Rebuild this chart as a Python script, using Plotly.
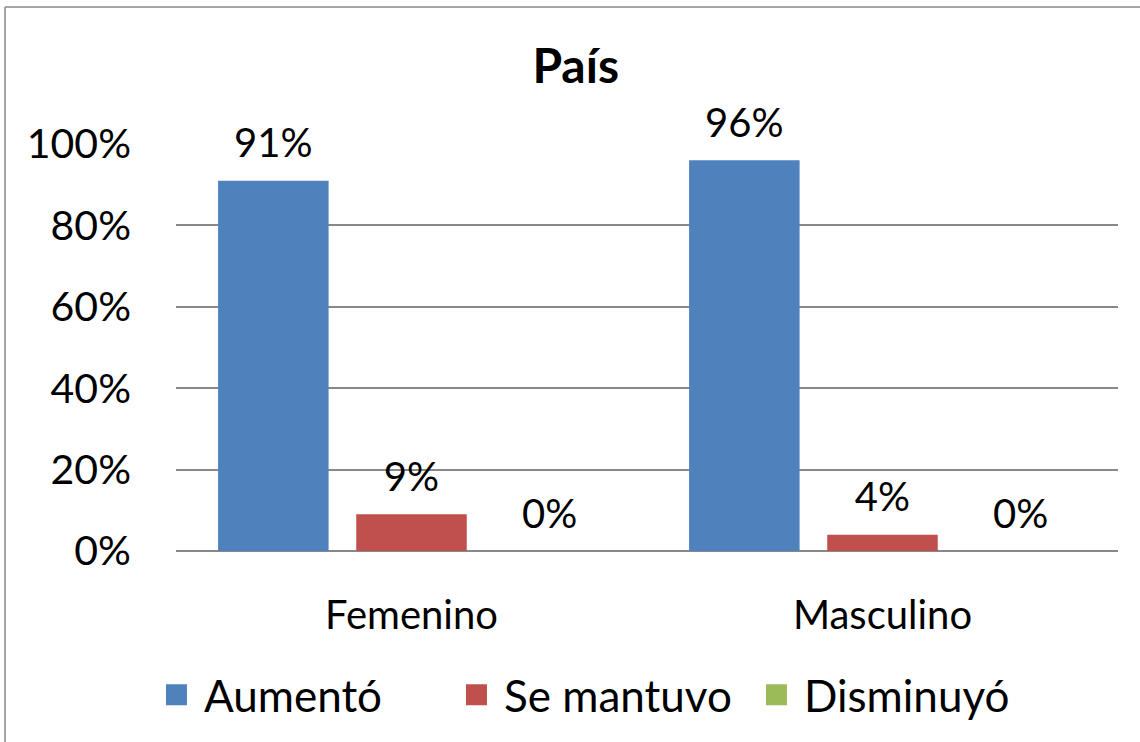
import plotly.graph_objects as go

categories = ["Femenino", "Masculino"]
series_names = ["Aumentó", "Se mantuvo", "Disminuyó"]
aumento = [0.91, 0.96]
se_mantuvo = [0.09, 0.04]
disminuyo = [0.0, 0.0]
colors = ["#4F81BD", "#C0504D", "#9BBB59"]
title_text = "País"
tick_vals = [0, 0.2, 0.4, 0.6, 0.8, 1.0]
tick_text = ["0%", "20%", "40%", "60%", "80%", "100%"]

FONT = "Lato, Carlito, Calibri, sans-serif"
series = [aumento, se_mantuvo, disminuyo]

fig = go.Figure()
for i, (name, vals, col) in enumerate(zip(series_names, series, colors)):
    fig.add_trace(go.Bar(
        x=categories, y=vals, name=name, offsetgroup=str(i), legendgroup=name,
        marker=dict(color=col, line=dict(width=0)),
        hoverinfo="skip", showlegend=False,
    ))
# data labels, grouped the same way as the bars
for i, (name, vals) in enumerate(zip(series_names, series)):
    fig.add_trace(go.Scatter(
        x=categories, y=vals, mode="markers+text", offsetgroup=str(i),
        text=[f"{round(v*100)}%" for v in vals], textposition="top center",
        textfont=dict(size=40, color="black", family=FONT),
        marker=dict(size=20, opacity=0), showlegend=False, hoverinfo="skip",
        cliponaxis=False,
    ))
# legend entries with larger square swatches
for i, (name, col) in enumerate(zip(series_names, colors)):
    fig.add_trace(go.Scatter(
        x=[None], y=[None], mode="markers", name=name, legendgroup=name, offsetgroup=str(i),
        marker=dict(symbol="square", size=30, color=col, line=dict(width=6, color=col)),
        showlegend=True, hoverinfo="skip",
    ))

# chart frame (cropped on right and bottom)
fig.add_shape(type="line", xref="paper", yref="paper", x0=-0.1815, x1=1.2, y0=1.3366, y1=1.3366,
              line=dict(color="#888888", width=1.5))
fig.add_shape(type="line", xref="paper", yref="paper", x0=-0.1815, x1=-0.1815, y0=1.3366, y1=-0.6,
              line=dict(color="#888888", width=1.5))

fig.update_layout(
    width=1140, height=742,
    margin=dict(l=176, r=22, t=144, b=191),
    paper_bgcolor="white", plot_bgcolor="white",
    barmode="group", bargap=0.12, bargroupgap=0.2,
    scattermode="group", scattergap=0.12,
    title=dict(text=f"<b>{title_text}</b>", x=0.505, xanchor="center", y=0.911, yanchor="middle",
               font=dict(size=48, color="black", family=FONT)),
    font=dict(family=FONT, color="black", size=40),
    showlegend=True,
    legend=dict(orientation="h", x=0.449, xanchor="center", y=-0.354, yanchor="middle",
                font=dict(size=44, family=FONT), traceorder="normal", itemsizing="trace",
                itemwidth=45, entrywidth=240, entrywidthmode="pixels"),
)
fig.update_yaxes(range=[0, 1], tickvals=tick_vals, ticktext=tick_text,
                 showgrid=True, gridcolor="#888888", gridwidth=2,
                 zeroline=True, zerolinecolor="#888888", zerolinewidth=2,
                 showline=False, ticks="", ticklabelstandoff=44, automargin=False,
                 tickfont=dict(size=41, family=FONT, color="black"))
fig.update_xaxes(showline=False, ticks="", tickfont=dict(size=40, family=FONT, color="black"),
                 ticklabelstandoff=37, automargin=False)

fig.write_html("out.html", post_script="document.body.style.margin='0';",
               config={"displayModeBar": False})
